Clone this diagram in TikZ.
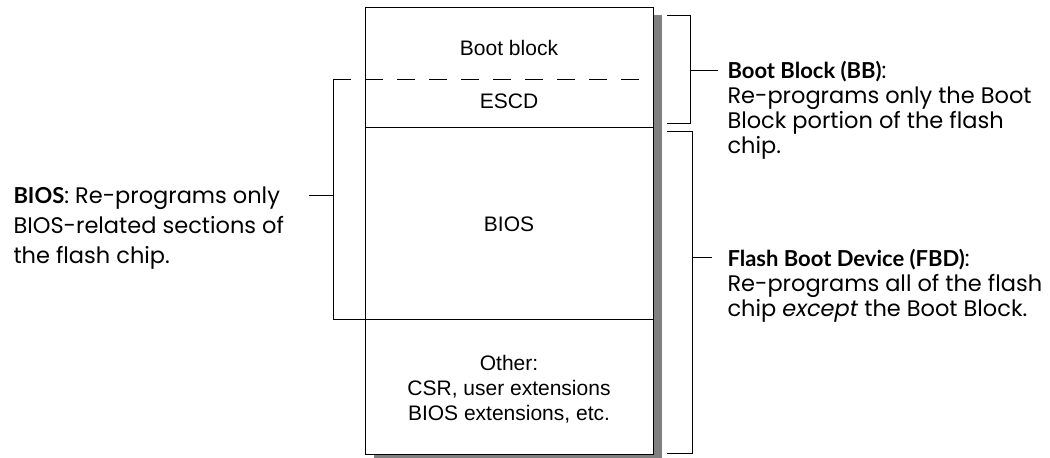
\documentclass[tikz,border=0pt]{standalone}
\usepackage{fontspec}
\setmainfont{Poppins}
\newfontfamily\hdfont{Lato}
\newfontfamily\boxfont{Liberation Sans}
\newcommand{\hd}[1]{{\hdfont\bfseries\fontsize{22}{25}\selectfont #1}}
\begin{document}
\begin{tikzpicture}[x=1pt,y=-1pt,line width=1pt,
  rlbl/.style={inner sep=0pt,anchor=base west,align=left,font=\fontsize{22.5}{25}\selectfont},
  llbl/.style={inner sep=0pt,anchor=base west,align=left,font=\fontsize{22.5}{30}\selectfont},
  boxtxt/.style={inner sep=0pt,align=center,font=\boxfont\fontsize{21}{25}\selectfont},
  shadow/.style={fill=black!50,draw=none},
  brk/.style={line width=1pt}]
\useasboundingbox (0,0) rectangle (1050,458);
% shadow and chip outline
\fill[shadow] (374,15) rectangle (662,462);
\node[draw,fill=white,line width=1.1pt,minimum width=288pt,minimum height=447pt,inner sep=0pt,anchor=north west] (chip) at (365,7) {};
% section separators
\coordinate (dl) at (333,79);
\coordinate (dr) at (653,79);
\coordinate (sl) at (365,127);
\coordinate (sr) at (653,127);
\coordinate (bl) at (333,319);
\coordinate (br) at (653,319);
\draw[dash pattern=on 18pt off 14pt] (dl) -- (dr);
\draw (sl) -- (sr);
\draw (bl) -- (br);
% texts in chip
\node[boxtxt,anchor=base] (boot) at (509,55) {Boot block};
\node[boxtxt,anchor=base] (escd) at (509,108) {ESCD};
\node[boxtxt,anchor=base] (bios) at (509,231) {BIOS};
\node[boxtxt,anchor=center] (other) at (509,389) {Other:\\CSR, user extensions\\BIOS extensions, etc.};
% left bracket (BIOS)
\coordinate (lt) at (309,195);
\coordinate (lm) at (333,195);
\draw[brk] (dl) -- (bl);
\draw[brk] (lt) -- (lm);
% right bracket (BB)
\coordinate (bb1) at (667,15);
\coordinate (bb2) at (690,15);
\coordinate (bb3) at (690,123);
\coordinate (bb4) at (667,123);
\coordinate (bbm) at (690,70);
\coordinate (bbt) at (718,70);
\draw[brk] (bb1) -- (bb2) -- (bb3) -- (bb4);
\draw[brk] (bbm) -- (bbt);
% right bracket (FBD)
\coordinate (fb1) at (667,131);
\coordinate (fb2) at (692,131);
\coordinate (fb3) at (692,453);
\coordinate (fb4) at (667,453);
\coordinate (fbm) at (692,257);
\coordinate (fbt) at (712,257);
\draw[brk] (fb1) -- (fb2) -- (fb3) -- (fb4);
\draw[brk] (fbm) -- (fbt);
% labels (anchor base = baseline of last line)
\node[llbl] (lbios) at (13,263) {\hd{BIOS}: Re-programs only\\BIOS-related sections of\\the flash chip.};
\node[rlbl] (lbb) at (727,153) {\hd{Boot Block (BB)}:\\Re-programs only the Boot\\Block portion of the flash\\chip.};
\node[rlbl] (lfbd) at (727,316) {\hd{Flash Boot Device (FBD)}:\\Re-programs all of the flash\\chip \textit{except} the Boot Block.};
\end{tikzpicture}
\end{document}
